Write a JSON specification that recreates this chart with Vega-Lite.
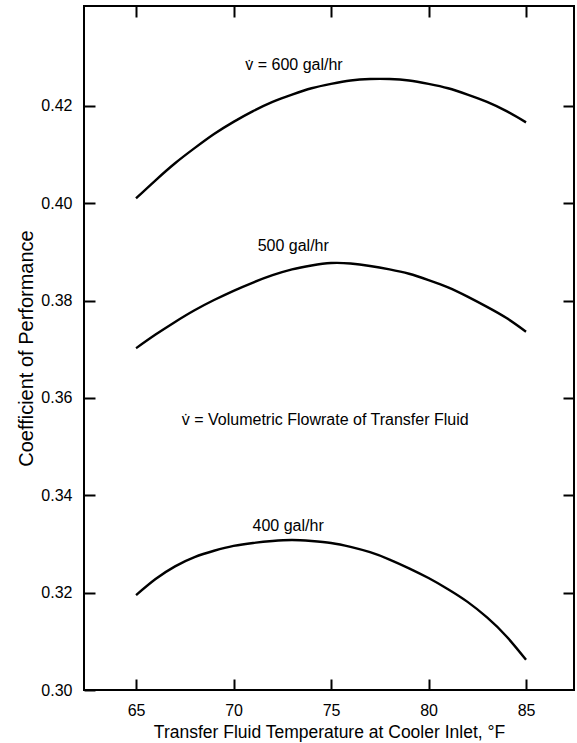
{
  "$schema": "https://vega.github.io/schema/vega-lite/v6.json",
  "width": 490,
  "height": 684,
  "autosize": "none",
  "padding": {"left": 84, "top": 6, "right": 3, "bottom": 53},
  "background": "white",
  "config": {
    "view": {"stroke": "black", "strokeWidth": 2},
    "font": "Liberation Sans",
    "axis": {"domain": false, "grid": false, "tickColor": "black", "tickWidth": 2, "tickSize": -11, "labelColor": "black", "titleColor": "black", "labelFont": "Liberation Sans", "titleFont": "Liberation Sans", "labelFontSize": 16, "titleFontSize": 17.5, "titleFontWeight": "normal"}
  },
  "datasets": {
    "curves": [
      {"series": "400", "temp": 65, "cop": 0.3195},
      {"series": "400", "temp": 66, "cop": 0.3228},
      {"series": "400", "temp": 67, "cop": 0.3254},
      {"series": "400", "temp": 68, "cop": 0.3273},
      {"series": "400", "temp": 69, "cop": 0.3286},
      {"series": "400", "temp": 70, "cop": 0.3296},
      {"series": "400", "temp": 71, "cop": 0.3302},
      {"series": "400", "temp": 72, "cop": 0.3306},
      {"series": "400", "temp": 73, "cop": 0.3308},
      {"series": "400", "temp": 74, "cop": 0.3306},
      {"series": "400", "temp": 75, "cop": 0.3302},
      {"series": "400", "temp": 76, "cop": 0.3294},
      {"series": "400", "temp": 77, "cop": 0.3283},
      {"series": "400", "temp": 78, "cop": 0.3268},
      {"series": "400", "temp": 79, "cop": 0.325},
      {"series": "400", "temp": 80, "cop": 0.323},
      {"series": "400", "temp": 81, "cop": 0.3207},
      {"series": "400", "temp": 82, "cop": 0.3181},
      {"series": "400", "temp": 83, "cop": 0.3149},
      {"series": "400", "temp": 84, "cop": 0.311},
      {"series": "400", "temp": 85, "cop": 0.3062},
      {"series": "500", "temp": 65, "cop": 0.3702},
      {"series": "500", "temp": 66, "cop": 0.373},
      {"series": "500", "temp": 67, "cop": 0.3756},
      {"series": "500", "temp": 68, "cop": 0.378},
      {"series": "500", "temp": 69, "cop": 0.3801},
      {"series": "500", "temp": 70, "cop": 0.382},
      {"series": "500", "temp": 71, "cop": 0.3837},
      {"series": "500", "temp": 72, "cop": 0.3852},
      {"series": "500", "temp": 73, "cop": 0.3864},
      {"series": "500", "temp": 74, "cop": 0.3872},
      {"series": "500", "temp": 75, "cop": 0.3877},
      {"series": "500", "temp": 76, "cop": 0.3876},
      {"series": "500", "temp": 77, "cop": 0.3871},
      {"series": "500", "temp": 78, "cop": 0.3864},
      {"series": "500", "temp": 79, "cop": 0.3855},
      {"series": "500", "temp": 80, "cop": 0.3842},
      {"series": "500", "temp": 81, "cop": 0.3827},
      {"series": "500", "temp": 82, "cop": 0.3808},
      {"series": "500", "temp": 83, "cop": 0.3787},
      {"series": "500", "temp": 84, "cop": 0.3764},
      {"series": "500", "temp": 85, "cop": 0.3736},
      {"series": "600", "temp": 65, "cop": 0.401},
      {"series": "600", "temp": 66, "cop": 0.4047},
      {"series": "600", "temp": 67, "cop": 0.4082},
      {"series": "600", "temp": 68, "cop": 0.4113},
      {"series": "600", "temp": 69, "cop": 0.4142},
      {"series": "600", "temp": 70, "cop": 0.4167},
      {"series": "600", "temp": 71, "cop": 0.4189},
      {"series": "600", "temp": 72, "cop": 0.4208},
      {"series": "600", "temp": 73, "cop": 0.4223},
      {"series": "600", "temp": 74, "cop": 0.4236},
      {"series": "600", "temp": 75, "cop": 0.4245},
      {"series": "600", "temp": 76, "cop": 0.4252},
      {"series": "600", "temp": 77, "cop": 0.4255},
      {"series": "600", "temp": 78, "cop": 0.4255},
      {"series": "600", "temp": 79, "cop": 0.4252},
      {"series": "600", "temp": 80, "cop": 0.4245},
      {"series": "600", "temp": 81, "cop": 0.4236},
      {"series": "600", "temp": 82, "cop": 0.4223},
      {"series": "600", "temp": 83, "cop": 0.4208},
      {"series": "600", "temp": 84, "cop": 0.4189},
      {"series": "600", "temp": 85, "cop": 0.4166}
    ],
    "labels": [
      {"label": "v̇ = 600 gal/hr", "temp": 73.1, "cop": 0.4283},
      {"label": "500 gal/hr", "temp": 73.06, "cop": 0.3911},
      {"label": "v̇ = Volumetric Flowrate of Transfer Fluid", "temp": 74.7, "cop": 0.3555},
      {"label": "400 gal/hr", "temp": 72.8, "cop": 0.3337}
    ]
  },
  "layer": [
    {
      "data": {"name": "curves"},
      "mark": {"type": "line", "color": "black", "strokeWidth": 2.4, "interpolate": "natural"},
      "encoding": {
        "x": {"field": "temp", "type": "quantitative", "scale": {"domain": [62.33, 87.46], "nice": false, "zero": false},
              "axis": {"orient": "bottom", "values": [65, 70, 75, 80, 85], "labelPadding": 23, "title": "Transfer Fluid Temperature at Cooler Inlet, °F", "titlePadding": 5}},
        "y": {"field": "cop", "type": "quantitative", "scale": {"domain": [0.3, 0.4405], "nice": false, "zero": false},
              "axis": {"orient": "left", "values": [0.3, 0.32, 0.34, 0.36, 0.38, 0.4, 0.42], "format": ".2f", "labelPadding": 23, "title": "Coefficient of Performance", "titleFontSize": 20, "titlePadding": 4}},
        "detail": {"field": "series", "type": "nominal"}
      }
    },
    {
      "data": {"name": "labels"},
      "mark": {"type": "text", "color": "black", "fontSize": 16, "font": "Liberation Sans", "baseline": "middle", "align": "center"},
      "encoding": {
        "x": {"field": "temp", "type": "quantitative", "axis": {"orient": "top", "values": [65, 70, 75, 80, 85], "labels": false, "title": null}},
        "y": {"field": "cop", "type": "quantitative", "axis": {"orient": "right", "values": [0.32, 0.34, 0.36, 0.38, 0.4, 0.42], "labels": false, "title": null}},
        "text": {"field": "label", "type": "nominal"}
      }
    }
  ],
  "resolve": {"axis": {"x": "independent", "y": "independent"}}
}
